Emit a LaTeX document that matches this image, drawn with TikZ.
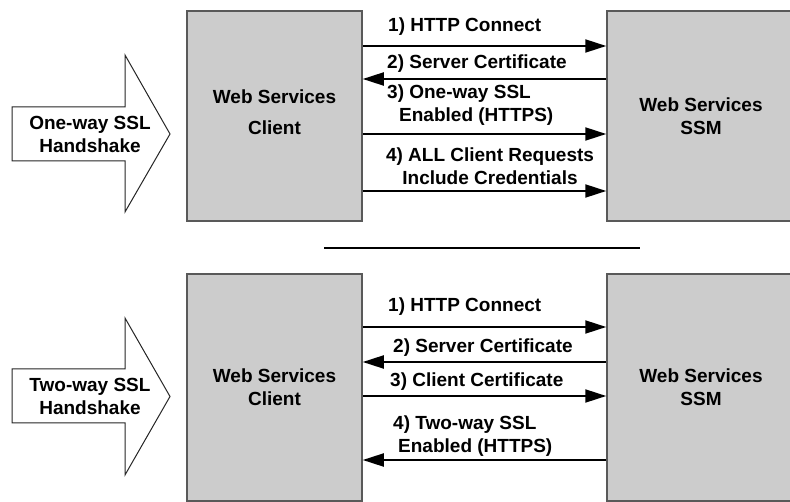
\documentclass[tikz,border=0pt]{standalone}
\usepackage{fontspec}
\setmainfont{Liberation Sans}
\usepackage{xcolor}
\usepackage{tikz}
\usetikzlibrary{arrows.meta}
\usetikzlibrary{positioning}

\begin{document}
\begin{tikzpicture}[
        x=1pt, y=-1pt,
        box/.style={rectangle, minimum width=175pt, minimum height=210pt, align=center, draw=black!65, line width=1.5pt, fill=black!20, font=\bfseries\fontsize{19}{23}\selectfont},
        bigarrow/.style={draw=black!85, line width=1pt, fill=white},
        hstext/.style={align=center, inner sep=0pt, font=\bfseries\fontsize{19}{23}\selectfont},
        lbl/.style={anchor=base west, align=left, inner sep=0pt, font=\bfseries\fontsize{19}{23}\selectfont},
        msg/.style={line width=2pt, -{Triangle[length=21pt, width=13pt]}}
    ]
        \useasboundingbox (0,0) rectangle (790,502);

        % ===== 单向SSL =====
        \node (cli1) [box] at (274.5,116) {Web Services\\[8pt]Client\rule[-8pt]{0pt}{0pt}};
        \node (ssm1) [box, minimum width=188pt, right=243.5pt of cli1] {Web Services\\SSM};
        \draw [bigarrow] (12,107) -- (125,107) -- (125,55) -- (170,134) -- (125,212) -- (125,161) -- (12,161) -- cycle;
        \node (hs1) [hstext] at (90,134.5) {One-way SSL\\Handshake};

        \draw [msg] (cli1.east |- 0,46) -- (ssm1.west |- 0,46);
        \draw [msg] (ssm1.west |- 0,79) -- (cli1.east |- 0,79);
        \draw [msg] (cli1.east |- 0,134) -- (ssm1.west |- 0,134);
        \draw [msg] (cli1.east |- 0,191) -- (ssm1.west |- 0,191);
        \node (m11) [lbl] at (388,32) {1) HTTP Connect};
        \node (m12) [lbl] at (387,69) {2) Server Certificate};
        \node (m13) [lbl] at (387,122) {3) One-way SSL\\\hspace*{12pt}Enabled (HTTPS)};
        \node (m14) [lbl, align=center, anchor=base] at (490,185) {4) ALL Client Requests\\Include Credentials};

        % 分隔线
        \draw [line width=2.5pt] (324,248) -- (640,248);

        % ===== 双向SSL =====
        \node (cli2) [box, minimum height=227pt, below=51.5pt of cli1] {Web Services\\Client};
        \node (ssm2) [box, minimum width=188pt, minimum height=227pt, right=243.5pt of cli2] {Web Services\\SSM};
        \draw [bigarrow] (12,369) -- (125,369) -- (125,318) -- (170,396.5) -- (125,475) -- (125,423) -- (12,423) -- cycle;
        \node (hs2) [hstext] at (90,396) {Two-way SSL\\Handshake};

        \draw [msg] (cli2.east |- 0,327) -- (ssm2.west |- 0,327);
        \draw [msg] (ssm2.west |- 0,362) -- (cli2.east |- 0,362);
        \draw [msg] (cli2.east |- 0,396) -- (ssm2.west |- 0,396);
        \draw [msg] (ssm2.west |- 0,460) -- (cli2.east |- 0,460);
        \node (m21) [lbl] at (388,312) {1) HTTP Connect};
        \node (m22) [lbl] at (393,353) {2) Server Certificate};
        \node (m23) [lbl] at (390,387) {3) Client Certificate};
        \node (m24) [lbl] at (393,453) {4) Two-way SSL\\\hspace*{5pt}Enabled (HTTPS)};

    \end{tikzpicture}
\end{document}
